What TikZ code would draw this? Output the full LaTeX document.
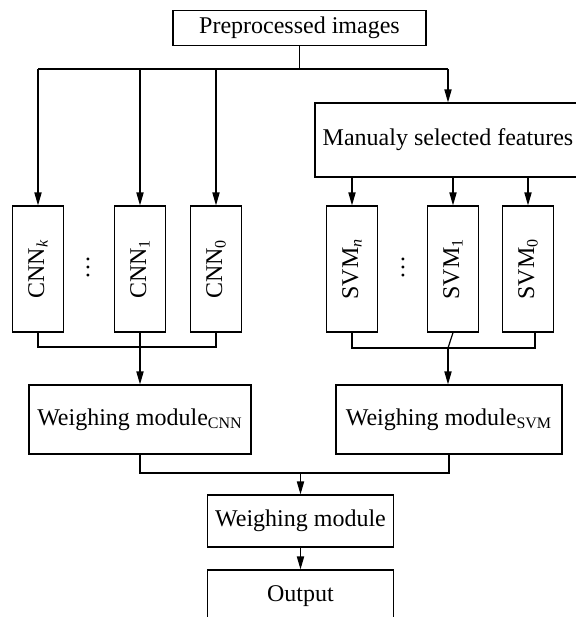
\documentclass[tikz,border=0pt]{standalone}
\usepackage{fontspec}
\setmainfont{Liberation Serif}
\usetikzlibrary{arrows.meta}
\begin{document}
\begin{tikzpicture}[x=0.5pt, y=-0.5pt, line width=0.6pt,
  box/.style={draw, inner sep=0pt, font=\fontsize{12}{14}\selectfont},
  clfbox/.style={box, minimum width=25.25pt, minimum height=63pt},
  wbox/.style={box, minimum height=34.5pt},
  arr/.style={-{Triangle[length=6.5pt, width=3.6pt]}}]
\useasboundingbox (0,0) rectangle (576,617);
\clip (0,0) rectangle (576,617);
\node[box, minimum width=126.5pt, minimum height=17.5pt] (pre) at (299.5,28) {Preprocessed images};
\node[box, minimum width=133pt, minimum height=37pt] (man) at (448,140) {Manualy selected features};
\node[clfbox] (cnnk) at (38,269) {\rotatebox{90}{CNN\textsubscript{\textit{k}}}};
\node[font=\fontsize{12}{14}\selectfont] (cdots) at (88,267) {\rotatebox{90}{\dots}};
\node[clfbox] (cnn1) at (140,269) {\rotatebox{90}{CNN\textsubscript{1}}};
\node[clfbox] (cnn0) at (216,269) {\rotatebox{90}{CNN\textsubscript{0}}};
\node[clfbox] (svmn) at (352,269) {\rotatebox{90}{SVM\textsubscript{\textit{n}}}};
\node[font=\fontsize{12}{14}\selectfont] (sdots) at (403,267) {\rotatebox{90}{\dots}};
\node[clfbox] (svm1) at (453,269) {\rotatebox{90}{SVM\textsubscript{1}}};
\node[clfbox] (svm0) at (528,269) {\rotatebox{90}{SVM\textsubscript{0}}};
\node[wbox, minimum width=111pt] (wcnn) at (140,419.5) {Weighing module\textsubscript{CNN}};
\node[wbox, minimum width=113pt] (wsvm) at (449,419.5) {Weighing module\textsubscript{SVM}};
\node[box, minimum width=93pt, minimum height=26pt] (wm) at (300.5,521) {Weighing module};
\node[box, minimum width=93pt, minimum height=26pt] (out) at (300.5,596) {Output};
\coordinate (split) at (299.5,69);
\coordinate (cnnjoin) at (140,347);
\coordinate (svmjoin) at (448,348);
\coordinate (wjoin) at (300.5,473);
\draw (pre.south) -- (split);
\draw (cnnk.north |- split) -- (man.north |- split);
\foreach \n in {cnnk,cnn1,cnn0,man}
  \draw[arr] (\n.north |- split) -- (\n.north);
\foreach \n in {svmn,svm1,svm0}
  \draw[arr] (man.south -| \n.north) -- (\n.north);
\draw (cnnk.south) |- (cnnjoin -| cnn0.south) -- (cnn0.south);
\draw[arr] (cnn1.south) -- (wcnn.north);
\draw (svmn.south) |- ([xshift=3.5pt]svm0.south |- svmjoin) -- ([xshift=3.5pt]svm0.south);
\draw (svm1.south) -- (svmjoin);
\draw[arr] (svmjoin) -- (svmjoin |- wsvm.north);
\draw (wcnn.south) |- (wjoin) -| (wsvm.south);
\draw[arr] (wjoin) -- (wm.north);
\draw[arr] (wm.south) -- (out.north);
\end{tikzpicture}
\end{document}
